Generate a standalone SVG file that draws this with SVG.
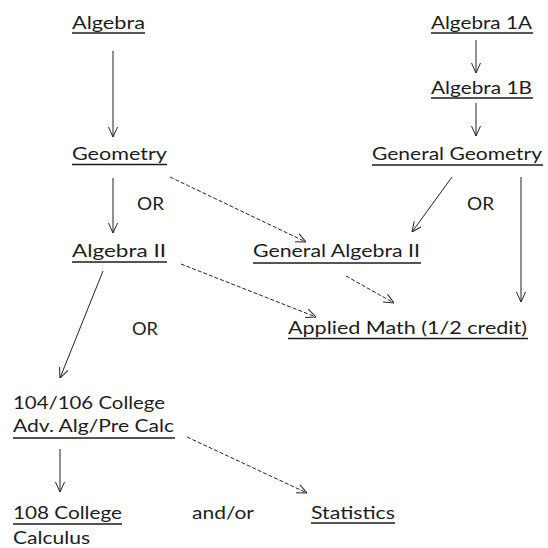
<svg xmlns="http://www.w3.org/2000/svg" width="548" height="548" viewBox="0 0 548 548">
<defs>
<marker id="ah" viewBox="0 0 10 10" refX="10" refY="5" markerWidth="10" markerHeight="10" markerUnits="userSpaceOnUse" orient="auto">
<path d="M0,0.5 L10,5 L0,9.5" fill="none" stroke="#222" stroke-width="1"/>
</marker>
<style>
text{font-family:Lato,"Liberation Sans",sans-serif;font-size:18px;fill:#1c1c1c}
.u{stroke:#1c1c1c;stroke-width:1.3}
.c{stroke:#222;stroke-width:1;fill:none;marker-end:url(#ah)}
.d{stroke-dasharray:4 2}
</style>
</defs>
<rect width="548" height="548" fill="#fff"/>
<g id="connectors">
<line class="c" x1="113" y1="51" x2="113" y2="137"/>
<line class="c" x1="113" y1="178" x2="113" y2="233"/>
<line class="c d" x1="170" y1="177" x2="306" y2="242"/>
<line class="c" x1="476" y1="40" x2="476" y2="73"/>
<line class="c" x1="476" y1="103" x2="476" y2="136"/>
<line class="c" x1="452" y1="177" x2="412" y2="232"/>
<line class="c" x1="521" y1="177" x2="521" y2="302"/>
<line class="c d" x1="181" y1="264" x2="316" y2="317"/>
<line class="c d" x1="346" y1="276" x2="394" y2="303"/>
<line class="c" x1="103" y1="271" x2="60" y2="378"/>
<line class="c" x1="60" y1="449" x2="60" y2="492"/>
<line class="c d" x1="187" y1="437" x2="307" y2="493"/>
</g>
<g id="n-algebra"><text x="72" y="29" textLength="73" lengthAdjust="spacingAndGlyphs">Algebra</text><line class="u" x1="72" y1="33" x2="145" y2="33"/></g>
<g id="n-geometry"><text x="72" y="160" textLength="95" lengthAdjust="spacingAndGlyphs">Geometry</text><line class="u" x1="72" y1="164.5" x2="167" y2="164.5"/></g>
<g id="n-or1"><text x="137" y="210" textLength="27" lengthAdjust="spacingAndGlyphs">OR</text></g>
<g id="n-algebra2"><text x="72" y="257" textLength="94" lengthAdjust="spacingAndGlyphs">Algebra II</text><line class="u" x1="72" y1="262" x2="167" y2="262"/></g>
<g id="n-genalg2"><text x="253" y="257" textLength="167" lengthAdjust="spacingAndGlyphs">General Algebra II</text><line class="u" x1="253" y1="263" x2="421" y2="263"/></g>
<g id="n-alg1a"><text x="431" y="29" textLength="101" lengthAdjust="spacingAndGlyphs">Algebra 1A</text><line class="u" x1="431" y1="33" x2="533" y2="33"/></g>
<g id="n-alg1b"><text x="431" y="94" textLength="101" lengthAdjust="spacingAndGlyphs">Algebra 1B</text><line class="u" x1="431" y1="98" x2="533" y2="98"/></g>
<g id="n-gengeom"><text x="372" y="160" textLength="170" lengthAdjust="spacingAndGlyphs">General Geometry</text><line class="u" x1="372" y1="165" x2="543" y2="165"/></g>
<g id="n-or2"><text x="467" y="210" textLength="27" lengthAdjust="spacingAndGlyphs">OR</text></g>
<g id="n-applied"><text x="288" y="334" textLength="239" lengthAdjust="spacingAndGlyphs">Applied Math (1/2 credit)</text><line class="u" x1="288" y1="338.5" x2="528" y2="338.5"/></g>
<g id="n-or3"><text x="132" y="335" textLength="26" lengthAdjust="spacingAndGlyphs">OR</text></g>
<g id="n-college104"><text x="13" y="409" textLength="152" lengthAdjust="spacingAndGlyphs">104/106 College</text><text x="13" y="432" textLength="161" lengthAdjust="spacingAndGlyphs">Adv. Alg/Pre Calc</text><line class="u" x1="13" y1="438" x2="175" y2="438"/></g>
<g id="n-college108"><text x="13" y="519" textLength="109" lengthAdjust="spacingAndGlyphs">108 College</text><line class="u" x1="13" y1="524" x2="122" y2="524"/><text x="13" y="544" textLength="77" lengthAdjust="spacingAndGlyphs">Calculus</text></g>
<g id="n-andor"><text x="192" y="519" textLength="62" lengthAdjust="spacingAndGlyphs">and/or</text></g>
<g id="n-statistics"><text x="311" y="519" textLength="84" lengthAdjust="spacingAndGlyphs">Statistics</text><line class="u" x1="311" y1="523" x2="395" y2="523"/></g>
</svg>
